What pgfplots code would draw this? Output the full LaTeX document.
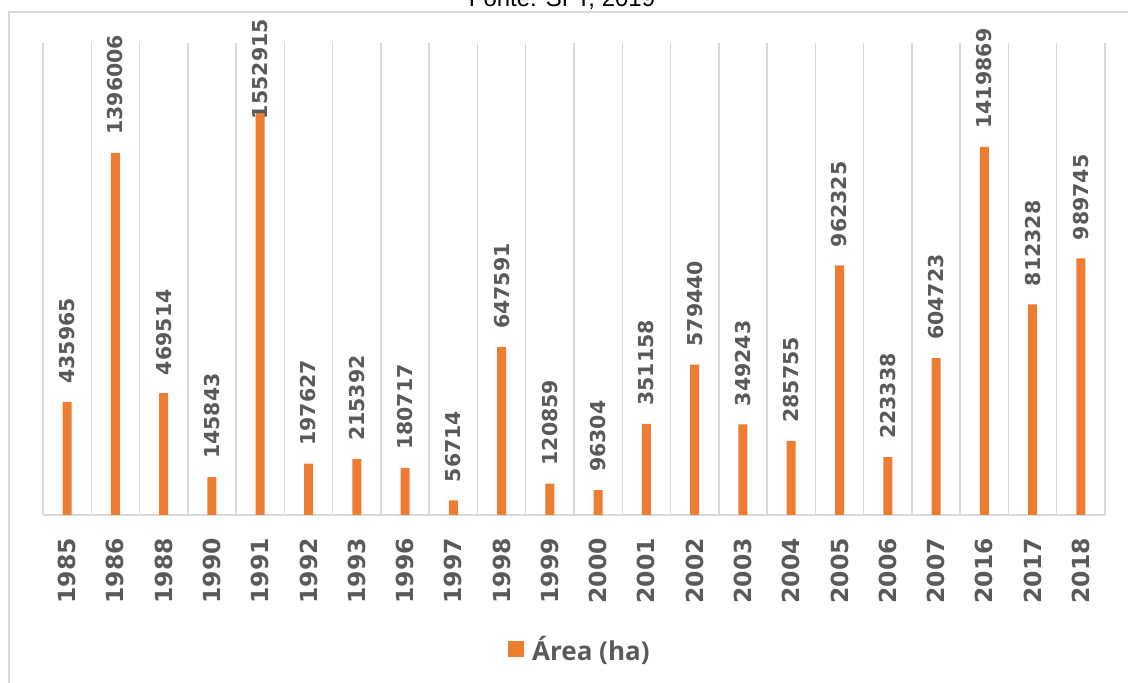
\documentclass[border=0pt]{standalone}
\usepackage{pgfplots}
\usepackage{pgfplotstable}
\pgfplotsset{compat=1.18}
\usepackage{fontspec}
\setmainfont{DejaVu Sans}
\newfontfamily\legfont{Open Sans}
\newfontfamily\ttlfont{Liberation Sans}
\definecolor{barc}{HTML}{ED7D31}
\definecolor{txt}{HTML}{595959}
\definecolor{grd}{HTML}{D9D9D9}
\pgfplotstableread{
x y label off
0 435965 435965 18
1 1396006 1396006 18
2 469514 469514 18
3 145843 145843 18
4 1552915 1552915 -7
5 197627 197627 18
6 215392 215392 18
7 180717 180717 18
8 56714 56714 18
9 647591 647591 18
10 120859 120859 18
11 96304 96304 18
12 351158 351158 18
13 579440 579440 18
14 349243 349243 18
15 285755 285755 18
16 962325 962325 18
17 223338 223338 18
18 604723 604723 18
19 1419869 1419869 18
20 812328 812328 18
21 989745 989745 18
}\areadata
\begin{document}
\begin{tikzpicture}[x=1bp,y=1bp]
\node[font=\ttlfont\fontsize{24bp}{28bp}\selectfont, anchor=base, text=black] at (562,676) {Fonte: SFT, 2019};
\draw[grd, line width=2bp] (9,0) -- (9,671) -- (1128,671);
\begin{axis}[
  at={(43bp,168bp)}, anchor=south west,
  scale only axis, width=1062bp, height=472bp,
  xmin=-0.5, xmax=21.5, ymin=0, ymax=1820000,
  axis x line*=bottom, axis y line=none,
  axis line style={grd, line width=1.5bp},
  xtick={0,...,21},
  xticklabels={1985,1986,1988,1990,1991,1992,1993,1996,1997,1998,1999,2000,2001,2002,2003,2004,2005,2006,2007,2016,2017,2018},
  xticklabel style={rotate=90, anchor=east, inner sep=0pt, font=\bfseries\fontsize{23.5bp}{26bp}\selectfont, text=txt},
  xticklabel shift=23bp,
  minor xtick={-0.5,0.5,...,21.5},
  xminorgrids=true,
  minor x grid style={grd, line width=1.5bp},
  major tick length=0pt, minor tick length=0pt,
  ytick=\empty,
  legend style={at={(0.5056,-0.284)}, anchor=center, draw=none, fill=none,
    font=\legfont\bfseries\fontsize{26bp}{28bp}\selectfont, text=txt},
  legend image code/.code={\fill[barc] (0bp,-8bp) rectangle (16bp,8bp); \path (16bp,0) -- (22bp,0);},
]
\addplot[ybar, bar width=9bp, bar shift=0pt, fill=barc, draw=none,
  point meta=explicit symbolic,
  visualization depends on={\thisrow{off} \as \labeloff},
  nodes near coords,
  nodes near coords style={rotate=90, anchor=west, inner xsep=\labeloff bp, inner ysep=0pt,
     font=\bfseries\fontsize{20.5bp}{24bp}\selectfont, text=txt},
] table[x=x, y=y, meta=label] {\areadata};
\addlegendentry{Área (ha)}
\end{axis}
\pgfresetboundingbox
\useasboundingbox (0,0) rectangle (1128,683);
\end{tikzpicture}
\end{document}
